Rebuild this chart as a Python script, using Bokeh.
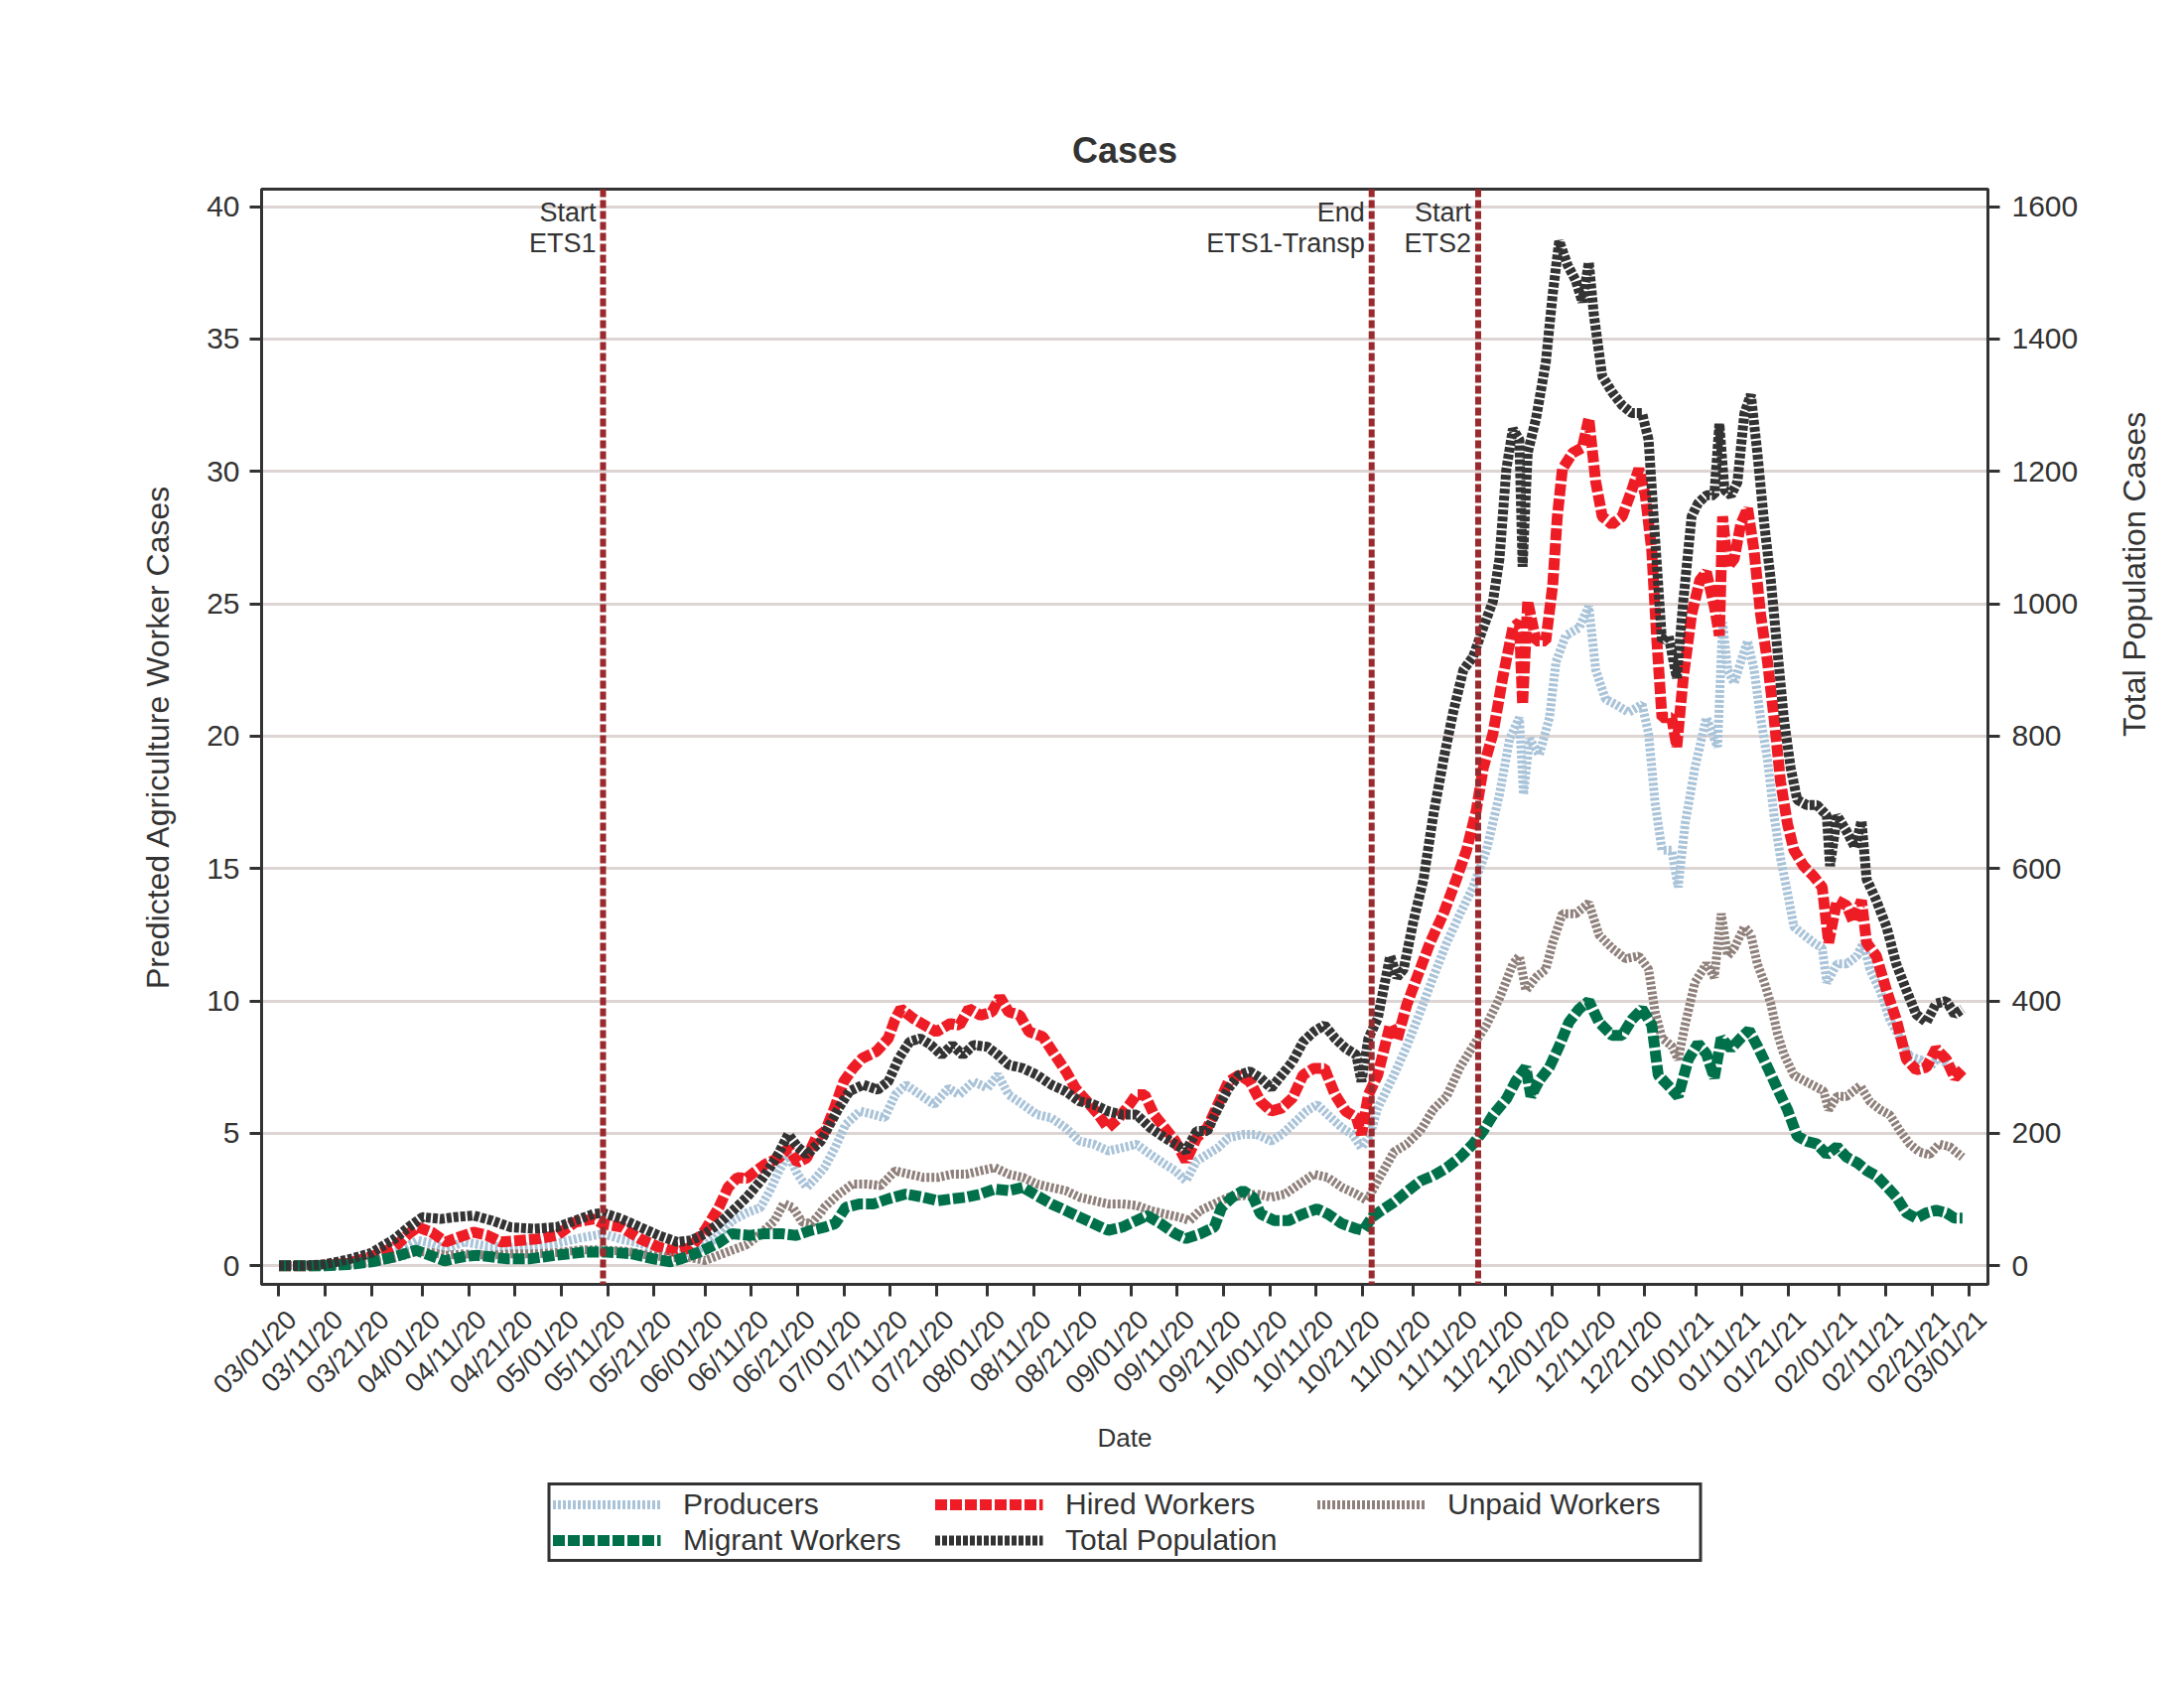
import math
import pandas as pd
from bokeh.plotting import figure
from bokeh.layouts import column
from bokeh.models import (Range1d, LinearAxis, DatetimeAxis, FixedTicker, DatetimeTickFormatter,
                          Span, Label, Legend, LegendItem)
from bokeh.embed import file_html
from bokeh.resources import INLINE

# ---------------- data (day offset from START, value) ----------------
START = "2020-03-01"

PRODUCERS = [(0,0),(10,0),(15,0.05),(20,0.25),(25,0.5),(30,0.96),(33,0.85),(36,0.65),(40,0.9),(45,0.75),
 (50,0.7),(55,0.75),(60,0.85),(65,1.05),(70,1.21),(74,1.0),(78,0.85),(82,0.6),(86,0.45),(90,0.55),(94,1.0),
 (98,1.71),(101,2.0),(104,2.2),(106,2.83),(108,3.58),(110,4.2),(112,3.46),(114,2.96),(116,3.33),(117.8,3.71),
 (120.1,4.46),(122.4,5.34),(125.5,5.84),(128.5,5.71),(130.8,5.59),(133.1,6.46),(135.4,6.84),(138.5,6.46),
 (141.5,6.09),(144.6,6.71),(146.9,6.46),(150,6.96),(153,6.71),(155.3,7.21),(157.6,6.46),(160.7,6.09),
 (163.7,5.71),(166.8,5.59),(169.9,5.21),(172.9,4.71),(176,4.59),(179.1,4.34),(182.1,4.46),(185.2,4.59),
 (188.2,4.21),(191.3,3.84),(193.6,3.59),(195.9,3.21),(198.2,3.96),(200.5,4.21),(202.8,4.46),(205.1,4.84),
 (208.2,4.96),(211.2,4.96),(214.3,4.71),(216.6,4.96),(218.9,5.34),(221.9,5.84),(224.2,6.09),(226.5,5.71),
 (229.6,5.21),(231.9,4.96),(233.8,4.46),(235.7,4.96),(237.3,5.96),(240.8,7.2),(243.6,8.3),(246.5,9.6),
 (249.3,10.9),(252.2,12.2),(255.1,13.3),(257.9,14.3),(260.8,15.7),(263.6,17.8),(265.8,19.9),(267.9,20.7),
 (268.8,17.8),(270.1,19.9),(272.2,19.3),(274.4,20.7),(275.8,22.8),(277.9,23.8),(280.8,24.1),(282.9,24.9),
 (284.4,22.5),(286.5,21.4),(288.7,21.2),(291.5,20.9),(294.4,21.2),(295.8,20.1),(297.2,17.5),(298.7,15.7),
 (300.8,15.7),(302.2,14.3),(303.7,16.7),(305.8,18.8),(308.3,20.7),(310,19.9),(310.7,19.6),(311.8,24.3),
 (312.9,22.5),(314.3,22.0),(315.7,22.8),(317.2,23.6),(318.6,22.5),(320,20.7),(321.5,19.1),(322.9,17.0),
 (324.3,15.4),(325.8,14.1),(327.2,12.8),(329.3,12.5),(331.5,12.2),(333.3,12.0),(334.3,10.7),(336.5,11.4),
 (338.6,11.4),(340.8,11.7),(342.2,12.2),(343.6,11.2),(345.8,10.4),(347.9,9.3),(350.1,8.6),(352.2,7.9),
 (354.3,7.8),(356.5,7.5),(358.6,7.9),(360.8,7.5),(363.6,7.2)]

HIRED = [(0,0),(5,0),(10,0.02),(15,0.1),(20,0.35),(25,0.71),(28,1.21),(30,1.46),(33,1.27),(36,0.9),(39,1.09),
 (42,1.27),(45,1.15),(48,0.9),(52,0.96),(56,1.02),(60,1.15),(64,1.65),(68,1.77),(70,1.59),(74,1.46),(78,1.02),
 (82,0.71),(86,0.52),(89,0.71),(92,1.34),(95,2.2),(97,2.96),(99,3.33),(101,3.3),(103,3.58),(105,3.83),
 (108,4.08),(110,4.45),(112,3.9),(114,4.08),(116,4.83),(118,5.1),(120,5.96),(122,6.96),(124,7.46),(126,7.84),
 (129,8.09),(131.6,8.59),(133,9.28),(134.3,9.71),(137,9.34),(140,9.03),(142,8.84),(145,9.15),(147,9.09),
 (149,9.71),(151.5,9.46),(154,9.59),(155.7,10.15),(157.6,9.59),(160,9.46),(162,8.84),(165,8.65),(167.6,7.96),
 (170,7.34),(172,6.71),(174.5,6.21),(177,5.71),(179,5.21),(181.4,5.59),(183.7,6.09),(185.2,6.46),(187,6.46),
 (189,5.71),(191.3,5.21),(193.6,4.71),(195.9,3.96),(198.2,4.84),(200.5,5.21),(202.8,6.09),(205.1,6.96),
 (207.4,7.21),(209.7,6.96),(212,6.21),(214.3,5.84),(216.6,5.96),(218.9,6.34),(221.2,7.21),(223.5,7.46),
 (225.8,7.46),(228.1,6.46),(230.4,5.84),(232.7,5.59),(233.8,4.96),(235.3,6.46),(237.3,7.21),(240,9.1),
 (241.5,8.55),(243.6,9.87),(245.8,10.9),(248.6,12.2),(251.5,13.3),(254.3,14.6),(256.5,15.7),(258.6,17.2),
 (260.1,18.8),(262.2,20.1),(264.3,22.2),(266.5,24.1),(267.9,24.3),(268.6,21.2),(269.7,25.1),(271.5,23.6),
 (273.6,23.6),(275.1,25.7),(276.1,28.3),(277.2,30.1),(279.4,30.7),(281.5,30.9),(282.9,32.0),(284.4,29.6),
 (285.8,28.3),(287.9,28.0),(290.1,28.3),(292.2,29.3),(293.7,30.1),(295.1,29.1),(296.5,27.0),(297.6,23.6),
 (298.7,20.7),(300.8,20.7),(301.9,19.6),(303.3,22.2),(305.1,24.6),(306.9,25.9),(308.3,26.2),(310,24.9),
 (311.1,23.8),(311.8,28.3),(312.9,26.4),(314.3,26.7),(315.7,28.0),(317.2,28.6),(318.6,27.0),(320,24.6),
 (321.5,22.8),(322.9,20.7),(324.3,18.3),(325.8,16.7),(327.2,15.7),(329.3,15.1),(331.5,14.7),(333.3,14.3),
 (334.7,12.2),(336.5,13.8),(338.6,13.6),(340,13.0),(341.8,13.8),(342.9,12.2),(345,11.7),(347.2,10.4),
 (349.3,9.3),(351.5,7.8),(353.6,7.4),(355.8,7.5),(357.9,8.2),(360.1,7.8),(361.9,7.1),(363.6,7.4)]

UNPAID = [(0,0),(15,0.05),(20,0.15),(25,0.3),(30,0.55),(33,0.5),(36,0.4),(40,0.45),(45,0.4),(50,0.45),(55,0.45),
 (60,0.5),(65,0.6),(70,0.6),(75,0.55),(80,0.4),(85,0.3),(88,0.34),(92,0.2),(95,0.4),(98,0.6),(101,0.8),
 (104,1.2),(107,1.7),(109,2.35),(111,2.2),(113,1.65),(115,1.6),(117,2.0),(117.8,2.21),(120.9,2.71),
 (123.9,3.09),(127,3.09),(130,3.03),(133.1,3.59),(136.2,3.46),(139.2,3.34),(142.3,3.34),(145.4,3.46),
 (148.4,3.46),(151.5,3.59),(154.6,3.71),(157.6,3.46),(160.7,3.34),(163.7,3.09),(166.8,2.96),(169.9,2.84),
 (172.9,2.59),(176,2.46),(179.1,2.34),(182.1,2.34),(185.2,2.28),(188.2,2.09),(191.3,1.96),(194.4,1.84),
 (196.7,1.71),(199,2.09),(202,2.34),(205.1,2.59),(208.2,2.65),(211.2,2.71),(214.3,2.59),(217.3,2.71),
 (220.4,3.09),(223.5,3.46),(226.5,3.34),(229.6,2.96),(232.7,2.71),(235,2.46),(237.3,3.21),(240.8,4.3),
 (243.6,4.6),(246.5,5.1),(249.3,5.9),(252.2,6.4),(255.1,7.5),(257.9,8.3),(260.8,9.1),(263.6,10.1),
 (266.5,11.4),(267.9,11.7),(269.3,10.4),(271.5,10.9),(273.6,11.2),(275.1,12.2),(277.2,13.3),(280.1,13.3),
 (282.9,13.7),(285.1,12.5),(287.9,12.0),(290.8,11.6),(293.7,11.7),(295.8,11.2),(297.2,9.6),(298.7,8.6),
 (300.8,8.3),(302.2,7.8),(303.7,9.1),(305.8,10.7),(308.3,11.4),(310,10.9),(311.5,13.3),(312.9,11.7),
 (314.3,12.0),(316.5,12.8),(317.9,12.5),(319.3,11.4),(320.8,10.7),(322.2,9.9),(323.6,8.8),(325,8.0),
 (327.2,7.2),(329.3,7.0),(331.5,6.8),(333.6,6.6),(334.7,5.9),(336.5,6.4),(338.6,6.4),(341.5,6.8),
 (343.6,6.2),(345.8,5.9),(347.9,5.7),(350.1,5.1),(352.2,4.6),(354.3,4.3),(356.5,4.2),(358.6,4.6),
 (360.8,4.5),(363.6,4.1)]

MIGRANT = [(0,0),(10,0),(15,0.05),(20,0.15),(25,0.34),(29.6,0.59),(35.8,0.19),(39.7,0.34),(42.8,0.4),(49,0.27),
 (54.4,0.27),(59.8,0.4),(66,0.52),(70.7,0.52),(76.1,0.46),(80.7,0.27),(84.6,0.15),(86.9,0.27),(90.8,0.52),
 (94.7,0.84),(97.8,1.21),(101.7,1.15),(104.8,1.21),(108.7,1.21),(111.8,1.15),(114.9,1.34),(117.8,1.46),
 (120.1,1.59),(122.4,2.21),(125.5,2.34),(128.5,2.34),(131.6,2.53),(135.4,2.71),(139.2,2.59),(142.3,2.46),
 (145.4,2.53),(148.4,2.59),(151.5,2.71),(154.6,2.9),(157.6,2.84),(160.7,2.96),(163.7,2.65),(166.8,2.34),
 (169.9,2.09),(172.9,1.84),(176,1.59),(179.1,1.34),(182.1,1.46),(185.2,1.71),(187.5,1.9),(190.5,1.59),
 (193.6,1.21),(195.9,1.03),(199,1.21),(202,1.46),(203.6,2.21),(205.9,2.59),(208.2,2.84),(210.4,2.59),
 (212,1.96),(215,1.71),(218.1,1.71),(221.2,1.96),(224.2,2.15),(226.5,1.96),(229.6,1.59),(232.7,1.4),
 (234.2,1.34),(236.1,1.84),(237.6,2.03),(240.8,2.4),(243.6,2.8),(246.5,3.2),(249.3,3.4),(252.2,3.7),
 (255.1,4.1),(257.9,4.6),(260.1,5.1),(262.2,5.7),(265.1,6.3),(267.2,7.0),(269.3,7.5),(270.4,6.4),
 (272.2,7.0),(274.4,7.5),(276.5,8.3),(278.6,9.2),(280.8,9.7),(282.9,10.0),(285.1,9.2),(287.9,8.7),
 (290.1,8.7),(292.2,9.3),(294.4,9.7),(296.5,9.1),(297.9,7.2),(300.1,6.8),(302.2,6.4),(304.4,7.8),
 (306.5,8.4),(308.3,8.0),(310,7.1),(311.5,8.6),(313.6,8.2),(315.7,8.6),(317.5,8.9),(319.3,8.3),
 (321.5,7.5),(323.6,6.7),(325.8,5.9),(327.9,4.9),(330,4.7),(332.2,4.6),(334.3,4.2),(336.5,4.5),
 (338.6,4.1),(340.8,3.9),(342.9,3.6),(345,3.4),(347.2,3.0),(349.3,2.6),(351.5,2.0),(353.6,1.8),
 (355.8,2.0),(357.9,2.1),(360.1,2.0),(361.9,1.8),(363.6,1.8)]

TOTAL = [(0,0),(5,0),(10,2.5),(15,9.6),(20,19.6),(25,40.8),(28,58.4),(31,73.6),(35,70.8),(38,73.6),(42,76),
 (46,68.4),(50,58.4),(55,56),(60,58.4),(64,68.4),(68,78.4),(70,80),(74,70.8),(78,58.4),(82,46),(86,36),
 (89,38.4),(92,48.4),(95,63.6),(98,83.2),(101,103.2),(104,128),(106,148),(108,170.8),(110,198.4),(112,180),
 (114,168),(117,188),(120.9,238.4),(123.2,263.6),(126.2,273.6),(129.3,266),(131.6,278.4),(133.9,313.6),
 (136.2,338.4),(138.5,343.6),(140.8,333.6),(143.1,318.4),(145.4,333.6),(147.7,318.4),(150,333.6),
 (153,330.8),(155.3,318.4),(157.6,303.6),(160.7,298.4),(163.7,288.4),(166.8,273.6),(169.9,263.6),
 (172.9,248.4),(176,243.6),(179.1,233.6),(182.1,228.4),(185.2,228.4),(188.2,208.4),(191.3,193.6),
 (193.6,183.6),(195.9,173.6),(198.2,203.6),(200.5,203.6),(202.8,238.4),(205.1,268.4),(207.4,288.4),
 (209.7,293.6),(212,283.6),(214.3,268.4),(216.6,288.4),(218.9,308.4),(221.2,338.4),(223.5,353.6),
 (225.8,363.6),(228.1,343.6),(230.4,328.4),(232.7,318.4),(233.8,278.4),(235.3,343.6),(237.3,373.6),
 (240,468),(241.5,436),(242.9,448),(245,520),(247.2,584),(249.3,680),(251.5,764),(253.6,836),(255.8,900),
 (257.9,920),(260.1,964),(262.2,1004),(263.6,1068),(265.1,1204),(266.5,1264),(267.9,1248),(268.6,1056),
 (269.7,1228),(271.5,1280),(273.6,1364),(275.1,1468),(276.5,1548),(278.3,1512),(280.1,1488),(281.5,1456),
 (282.9,1516),(284,1436),(285.8,1344),(287.9,1320),(290.1,1300),(292.2,1288),(294.4,1288),(295.8,1248),
 (297.2,1100),(298.7,944),(300.1,952),(301.9,888),(303.3,1004),(305.1,1132),(306.5,1152),(308.3,1164),
 (310,1164),(311.1,1272),(312.2,1172),(313.6,1164),(315,1184),(316.5,1288),(317.9,1316),(319.3,1228),
 (320.8,1120),(322.2,1036),(323.6,932),(325,828),(326.5,752),(327.9,704),(330,696),(332.2,696),(334.3,680),
 (335,604),(336.5,680),(338.6,656),(340.4,632),(341.8,672),(342.9,584),(345,552),(347.2,512),(349.3,456),
 (351.5,416),(353.6,380),(355.8,368),(357.9,396),(360.1,400),(361.9,380),(363.6,388)]

SERIES_NAMES = ["Producers", "Hired Workers", "Unpaid Workers", "Migrant Workers", "Total Population"]
LEFT_TICKS = [0, 5, 10, 15, 20, 25, 30, 35, 40]
RIGHT_TICKS = [0, 200, 400, 600, 800, 1000, 1200, 1400, 1600]
TICK_DATES = ["03/01/20", "03/11/20", "03/21/20", "04/01/20", "04/11/20", "04/21/20", "05/01/20",
              "05/11/20", "05/21/20", "06/01/20", "06/11/20", "06/21/20", "07/01/20", "07/11/20",
              "07/21/20", "08/01/20", "08/11/20", "08/21/20", "09/01/20", "09/11/20", "09/21/20",
              "10/01/20", "10/11/20", "10/21/20", "11/01/20", "11/11/20", "11/21/20", "12/01/20",
              "12/11/20", "12/21/20", "01/01/21", "01/11/21", "01/21/21", "02/01/21", "02/11/21",
              "02/21/21", "03/01/21"]
EVENT_DATES = ["2020-05-10", "2020-10-23", "2020-11-15"]
EVENT_TEXTS = ["Start\nETS1", "End\nETS1-Transp", "Start\nETS2"]

# ---------------- helpers ----------------
T0 = pd.Timestamp(START)
EPOCH = pd.Timestamp("1970-01-01")


def to_ms(ts):
    return (ts - EPOCH) / pd.Timedelta(milliseconds=1)


def day_ms(d):
    return to_ms(T0 + pd.Timedelta(days=d))


def xs_of(series):
    return [day_ms(d) for d, _ in series]


def ys_of(series):
    return [v for _, v in series]


FONT = "Liberation Sans"
DARK = "#333333"
X_START, X_END = -3.75, 369.1
LABEL_SHIFT = 2.8  # rotated tick labels sit slightly right of their ticks

p = figure(x_axis_type="datetime", frame_width=1739, frame_height=1103,
           min_border_left=263, min_border_right=180, min_border_top=190, min_border_bottom=190,
           x_range=Range1d(day_ms(X_START), day_ms(X_END)),
           y_range=Range1d(-0.70, 40.66),
           output_backend="svg", toolbar_location=None, background_fill_color="white",
           border_fill_color="white")
p.extra_y_ranges = {"right": Range1d(-28.0, 1626.4)}
p.extra_x_ranges = {"lbl": Range1d(day_ms(X_START - LABEL_SHIFT), day_ms(X_END - LABEL_SHIFT))}

p.outline_line_color = DARK
p.outline_line_width = 3
p.outline_line_alpha = 1.0

p.title.text = "Cases"
p.title.align = "center"
p.title.text_font = FONT
p.title.text_font_size = "36px"
p.title.text_font_style = "bold"
p.title.text_color = DARK
p.title.standoff = 38

# grid
p.xgrid.visible = False
p.ygrid.ticker = FixedTicker(ticks=LEFT_TICKS)
p.ygrid.grid_line_color = "#ddd5d3"
p.ygrid.grid_line_width = 3


def style_axis(ax, tick_size, label_size):
    ax.axis_line_color = DARK
    ax.axis_line_width = 3
    ax.major_tick_line_color = DARK
    ax.major_tick_line_width = 3
    ax.major_tick_out = 12
    ax.major_tick_in = 0
    ax.minor_tick_out = 0
    ax.minor_tick_in = 0
    ax.major_label_text_font = FONT
    ax.major_label_text_font_size = tick_size
    ax.major_label_text_color = DARK
    ax.axis_label_text_font = FONT
    ax.axis_label_text_font_size = label_size
    ax.axis_label_text_font_style = "normal"
    ax.axis_label_text_color = DARK


tick_ms = [to_ms(pd.to_datetime(t, format="%m/%d/%y")) for t in TICK_DATES]
fmt = "%m/%d/%y"


def date_formatter():
    return DatetimeTickFormatter(microseconds=fmt, milliseconds=fmt, seconds=fmt, minsec=fmt,
                                 minutes=fmt, hourmin=fmt, hours=fmt, days=fmt, months=fmt, years=fmt)


# x axis: tick marks on the main axis
xax = p.xaxis[0]
xax.ticker = FixedTicker(ticks=tick_ms)
xax.formatter = date_formatter()
style_axis(xax, "1px", "1px")
xax.major_label_text_alpha = 0
xax.major_label_standoff = 0

# x axis: the rotated date labels
lab_ax = DatetimeAxis(x_range_name="lbl", ticker=FixedTicker(ticks=tick_ms), formatter=date_formatter(),
                      axis_label="Date")
style_axis(lab_ax, "27px", "26px")
lab_ax.axis_line_color = None
lab_ax.major_tick_line_color = None
lab_ax.major_tick_out = 0
lab_ax.major_label_orientation = math.pi / 4
lab_ax.major_label_standoff = 19
lab_ax.axis_label_standoff = 10
p.add_layout(lab_ax, "below")

# left y axis
yax = p.yaxis[0]
yax.ticker = FixedTicker(ticks=LEFT_TICKS)
yax.axis_label = "Predicted Agriculture Worker Cases"
style_axis(yax, "30px", "32px")
yax.major_label_standoff = 10
yax.axis_label_standoff = 28

# right y axis
RIGHT_LABEL = "Total Population Cases"
rax = LinearAxis(y_range_name="right", ticker=FixedTicker(ticks=RIGHT_TICKS), axis_label=RIGHT_LABEL)
style_axis(rax, "30px", "32px")
rax.major_label_standoff = 12
rax.axis_label_standoff = 54
try:
    rax.axis_label_orientation = math.pi / 2
except Exception:
    pass
p.add_layout(rax, "right")

# series
COLORS = ["#a9c3d9", "#ee1c25", "#8f807b", "#00704a", DARK]
DASHES = ["3 2", "12 3", "3 2", "12 3", "5 2"]
WIDTHS = [9, 11, 9, 11, 10]
DATA = [PRODUCERS, HIRED, UNPAID, MIGRANT, TOTAL]
for name, data, col, dash, w in zip(SERIES_NAMES, DATA, COLORS, DASHES, WIDTHS):
    kw = {"y_range_name": "right"} if name == "Total Population" else {}
    p.line(xs_of(data), ys_of(data), line_color=col, line_width=w, line_dash=dash, **kw)

# event lines and labels
for d, txt in zip(EVENT_DATES, EVENT_TEXTS):
    loc = to_ms(pd.Timestamp(d))
    p.add_layout(Span(location=loc, dimension="height", line_color="#9b2a2f",
                      line_width=6, line_dash="8 3"))
    p.add_layout(Label(x=loc, y=40.35, text=txt, x_offset=-7, text_align="right",
                       text_baseline="top", text_font=FONT, text_font_size="27px",
                       text_color=DARK, text_line_height=1.05))

# ---------------- legend strip below the chart ----------------
lg = figure(frame_width=1739, frame_height=110, min_border_left=263, min_border_right=180,
            min_border_top=0, min_border_bottom=0, x_range=Range1d(0, 1), y_range=Range1d(0, 1),
            x_axis_location=None, y_axis_location=None, output_backend="svg",
            toolbar_location=None, outline_line_color=None, background_fill_color="white",
            border_fill_color="white")
lg.grid.visible = False
items = []
for name, col, dash, w in zip(SERIES_NAMES, COLORS, DASHES, WIDTHS):
    # key glyphs only: the two points lie outside the strip's visible range
    r = lg.line([-2, -1], [-2, -1], line_color=col, line_width=w, line_dash=dash)
    items.append(LegendItem(label=name, renderers=[r]))

legend = Legend(items=items, location="top_center", orientation="horizontal", ncols=3)
legend.label_text_font = FONT
legend.label_text_font_size = "30px"
legend.label_text_color = DARK
legend.glyph_width = 109
legend.glyph_height = 20
legend.label_height = 20
legend.label_width = 251
legend.label_standoff = 23
legend.spacing = 2
legend.padding = 2
legend.margin = 10
legend.border_line_color = DARK
legend.border_line_width = 3
legend.border_line_alpha = 1.0
legend.background_fill_alpha = 1.0
lg.add_layout(legend, "center")

open("out.html", "w").write(file_html(column(p, lg), INLINE))
